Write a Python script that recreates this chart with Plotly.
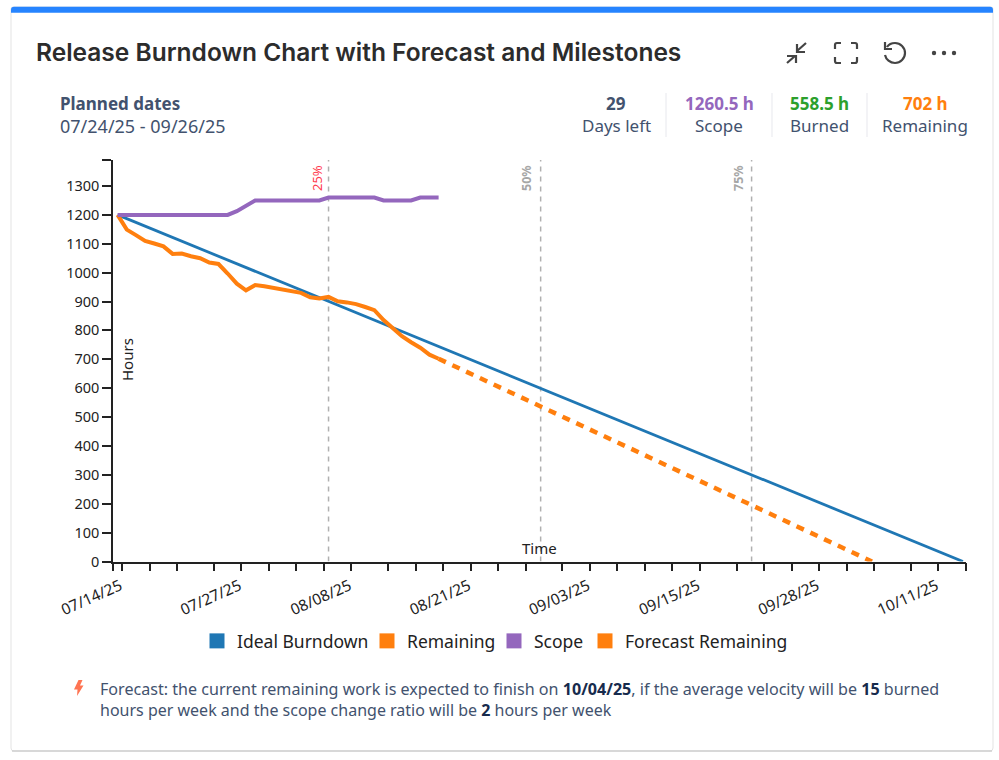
import re
import plotly.graph_objects as go

W, H = 999, 760

# series
day_dates = ["2025-07-13 12:00", "2025-07-14 12:00", "2025-07-15 12:00", "2025-07-16 12:00", "2025-07-17 12:00",
             "2025-07-18 12:00", "2025-07-19 12:00", "2025-07-20 12:00", "2025-07-21 12:00", "2025-07-22 12:00",
             "2025-07-23 12:00", "2025-07-24 12:00", "2025-07-25 12:00", "2025-07-26 12:00", "2025-07-27 12:00",
             "2025-07-28 12:00", "2025-07-29 12:00", "2025-07-30 12:00", "2025-07-31 12:00", "2025-08-01 12:00",
             "2025-08-02 12:00", "2025-08-03 12:00", "2025-08-04 12:00", "2025-08-05 12:00", "2025-08-06 12:00",
             "2025-08-07 12:00", "2025-08-08 12:00", "2025-08-09 12:00", "2025-08-10 12:00", "2025-08-11 12:00",
             "2025-08-12 12:00", "2025-08-13 12:00", "2025-08-14 12:00", "2025-08-15 12:00", "2025-08-16 12:00",
             "2025-08-17 12:00"]
remaining = [1200, 1149, 1130, 1110, 1101, 1091, 1065, 1066, 1057, 1050, 1035, 1030, 997, 962, 939, 957, 953, 947,
             942, 936, 930, 915, 911, 916, 901, 897, 891, 881, 870, 836, 807, 780, 759, 740, 716, 702]
scope = [1200, 1200, 1200, 1200, 1200, 1200, 1200, 1200, 1200, 1200, 1200, 1200, 1200, 1213, 1231, 1250, 1250, 1250,
         1250, 1250, 1250, 1250, 1250, 1260, 1260, 1260, 1260, 1260, 1260, 1250, 1250, 1250, 1250, 1260, 1260, 1260]
ideal_dates = ["2025-07-13 12:00", "2025-10-13 16:00"]
ideal_values = [1200, 0]
forecast_dates = ["2025-08-17 12:00", "2025-10-03 18:00"]
forecast_values = [702, 0]

milestone_names = ["25%", "50%", "75%"]
milestone_dates = ["2025-08-05 12:00", "2025-08-28 15:00", "2025-09-20 15:00"]
milestone_colors = ["#FF3B4E", "#A6A6A6", "#A6A6A6"]

x_start, x_end = "2025-07-13", "2025-10-14"
y_top = 1390
x_tick_dates = ["2025-07-13", "2025-07-14", "2025-07-17", "2025-07-20", "2025-07-24", "2025-07-27", "2025-07-30",
                "2025-08-02", "2025-08-05", "2025-08-08", "2025-08-12", "2025-08-15", "2025-08-18", "2025-08-21",
                "2025-08-24", "2025-08-27", "2025-08-31", "2025-09-03", "2025-09-06", "2025-09-09", "2025-09-12",
                "2025-09-15", "2025-09-19", "2025-09-22", "2025-09-25", "2025-09-28", "2025-10-01", "2025-10-04",
                "2025-10-08", "2025-10-11", "2025-10-14"]
x_tick_labels = ["", "07/14/25", "", "", "", "07/27/25", "", "", "", "08/08/25", "", "", "", "08/21/25", "", "", "",
                 "09/03/25", "", "", "", "09/15/25", "", "", "", "09/28/25", "", "", "", "10/11/25", ""]
y_tick_values = [0, 100, 200, 300, 400, 500, 600, 700, 800, 900, 1000, 1100, 1200, 1300, y_top]
y_tick_labels = ["0", "100", "200", "300", "400", "500", "600", "700", "800", "900", "1000", "1100", "1200", "1300", ""]

legend_names = ["Ideal Burndown", "Remaining", "Scope", "Forecast Remaining"]
legend_colors = ["#1F77B4", "#FF7F0E", "#9467BD", "#FF7F0E"]
legend_lefts = [197, 367, 494, 585]

stat_values = ["29", "1260.5 h", "558.5 h", "702 h"]
stat_names = ["Days left", "Scope", "Burned", "Remaining"]
stat_colors = ["#42526E", "#9467BD", "#2CA02C", "#FF7F0E"]
stat_centers = [616, 719, 819, 925]

SANS = "Noto Sans"
TEXT = "#42526E"


def fx(x):
    return x / W


def fy(y):
    return 1 - y / H


def px_path(s):
    # path written in picture pixels, converted to paper coordinates
    return re.sub(r"(-?[\d.]+),(-?[\d.]+)", lambda m: f"{fx(float(m[1])):.5f},{fy(float(m[2])):.5f}", s)


def label(x, y, text, size=15, color=TEXT, anchor="left", font=SANS, weight=None, angle=0):
    fig.add_annotation(x=fx(x), y=fy(y), xref="paper", yref="paper", text=text, showarrow=False, xanchor=anchor,
                       yanchor="middle", textangle=angle, borderpad=0, borderwidth=0,
                       font=dict(family=font, size=size, color=color, weight=weight))


def path_shape(s, line=None, width=2, fill=None, layer="above"):
    fig.add_shape(type="path", path=px_path(s), xref="paper", yref="paper", layer=layer,
                  line=dict(color=line, width=width if line else 0), fillcolor=fill)


fig = go.Figure()

# milestones
for name, d, c in zip(milestone_names, milestone_dates, milestone_colors):
    fig.add_trace(go.Scatter(x=[d, d], y=[0, y_top], mode="lines", showlegend=False,
                             line=dict(color="#B0B0B0", width=1.5, dash="5px,5px")))

fig.add_trace(go.Scatter(x=ideal_dates, y=ideal_values, mode="lines", showlegend=False,
                         line=dict(color=legend_colors[0], width=2.8)))
fig.add_trace(go.Scatter(x=forecast_dates, y=forecast_values, mode="lines", showlegend=False, cliponaxis=True,
                         line=dict(color=legend_colors[3], width=4.5, dash="8px,7.2px")))
fig.add_trace(go.Scatter(x=day_dates, y=remaining, mode="lines", showlegend=False,
                         line=dict(color=legend_colors[1], width=4, shape="linear")))
fig.add_trace(go.Scatter(x=day_dates, y=scope, mode="lines", showlegend=False,
                         line=dict(color=legend_colors[2], width=4)))

# legend uses square swatches, so empty marker traces carry it; one legend box per entry to place them
legend_boxes = {}
for i, (name, c, left) in enumerate(zip(legend_names, legend_colors, legend_lefts)):
    key = "legend" if i == 0 else f"legend{i + 1}"
    fig.add_trace(go.Scatter(x=[None], y=[None], mode="markers", name=name, legend=key,
                             marker=dict(symbol="square", size=15, color=c)))
    legend_boxes[key] = dict(x=fx(left), xanchor="left", y=fy(641), yanchor="middle", bgcolor="rgba(0,0,0,0)",
                             font=dict(size=17.5, color="#222222"), itemclick=False)

fig.update_layout(
    width=W, height=H, autosize=False,
    margin=dict(l=0, r=0, t=0, b=0),
    paper_bgcolor="white", plot_bgcolor="rgba(0,0,0,0)",
    font=dict(family=SANS, size=14.5, color="#222222"),
    **legend_boxes,
)
fig.update_xaxes(domain=[fx(113), fx(966)], type="date", range=[x_start, x_end], tickmode="array",
                 tickvals=x_tick_dates, ticktext=x_tick_labels, tickangle=-24, ticks="outside", ticklen=8,
                 tickwidth=1.5, tickcolor="#222222", showline=True, linecolor="#222222", linewidth=1.5,
                 showgrid=False, zeroline=False, automargin=False, tickfont=dict(size=15.5), ticklabelshift=-2)
fig.update_yaxes(domain=[fy(561.5), fy(160)], range=[0, y_top], tickmode="array", tickvals=y_tick_values,
                 ticktext=y_tick_labels, ticks="outside", ticklen=9, tickwidth=1.5, tickcolor="#222222",
                 showline=True, linecolor="#222222", linewidth=1.5, showgrid=False, zeroline=False,
                 automargin=False)

# card
path_shape("M13,7 L991,7 Q993,7 993,9 L993,748 Q993,751 990,751 L14,751 Q11,751 11,748 L11,9 Q11,7 13,7 Z",
           line="#E3E3E3", width=1, fill="white", layer="below")
path_shape("M12,751 L992,751", line="#CFCFCF", width=1.5, layer="below")
path_shape("M11,12.7 L11,10 Q11,6.7 14,6.7 L990,6.7 Q993,6.7 993,10 L993,12.7 Z", fill="#2684FF")

# header icons
ICON = "#444444"
path_shape("M806,43 L797,51 M797,44 L797,52 L805,52", line=ICON, width=2.2)
path_shape("M787,63 L795,56 M787,56 L796,56 L796,63", line=ICON, width=2.2)
path_shape("M835,49 L835,45 Q835,43 837,43 L841,43 M851,43 L855,43 Q857,43 857,45 L857,49 "
           "M857,57 L857,61 Q857,63 855,63 L851,63 M841,63 L837,63 Q835,63 835,61 L835,57", line=ICON, width=2.2)
path_shape("M887,47 C889,44 892,43 895,43 C900.5,43 905,47.5 905,53 C905,58.5 900.5,63 895,63 "
           "C890,63 886,59.5 885,55 M885,42 L885,49 L892,49", line=ICON, width=2.2)
for cx in [934, 944, 954]:
    fig.add_shape(type="circle", xref="paper", yref="paper", x0=fx(cx - 2.2), x1=fx(cx + 2.2), y0=fy(53 + 2.2),
                  y1=fy(53 - 2.2), fillcolor=ICON, line=dict(width=0))

# stat dividers
for x in [666, 772, 867]:
    path_shape(f"M{x},93 L{x},137", line="#EBECF0", width=1.2)

# forecast icon
path_shape("M78.5,680 L74,689.5 L77.5,689.5 L77,696 L83.5,685.5 L80,685.5 L82.5,680 Z", fill="#FF7452")

label(36, 52, "Release Burndown Chart with Forecast and Milestones", size=24.5, color="#2C2C2C", font="Inter", weight=600)
label(60, 104, "<b>Planned dates</b>", size=17)
label(60, 126, "07/24/25 - 09/26/25", size=18)
for cx, val, name, c in zip(stat_centers, stat_values, stat_names, stat_colors):
    label(cx, 104, f"<b>{val}</b>", size=17, color=c, anchor="center")
    label(cx, 126, name, size=17, anchor="center")

label(127, 360, "Hours", size=15, color="#222222", anchor="center", angle=-90)
label(539.5, 548, "Time", size=15, color="#222222", anchor="center")
for name, x, c in zip(milestone_names, [317, 527, 739], milestone_colors):
    text = name if c == "#FF3B4E" else f"<b>{name}</b>"
    label(x, 178, text, size=13 if c == "#FF3B4E" else 12.5, color=c, anchor="center", angle=-90)

BOLD = '<span style="color:#172B4D"><b>%s</b></span>'
label(100, 689, "Forecast: the current remaining work is expected to finish on " + BOLD % "10/04/25"
      + ", if the average velocity will be " + BOLD % "15" + " burned", size=16.1)
label(100, 710, "hours per week and the scope change ratio will be " + BOLD % "2" + " hours per week", size=16)

fig.write_html("out.html", config={"displayModeBar": False}, post_script="document.body.style.margin='0';")
